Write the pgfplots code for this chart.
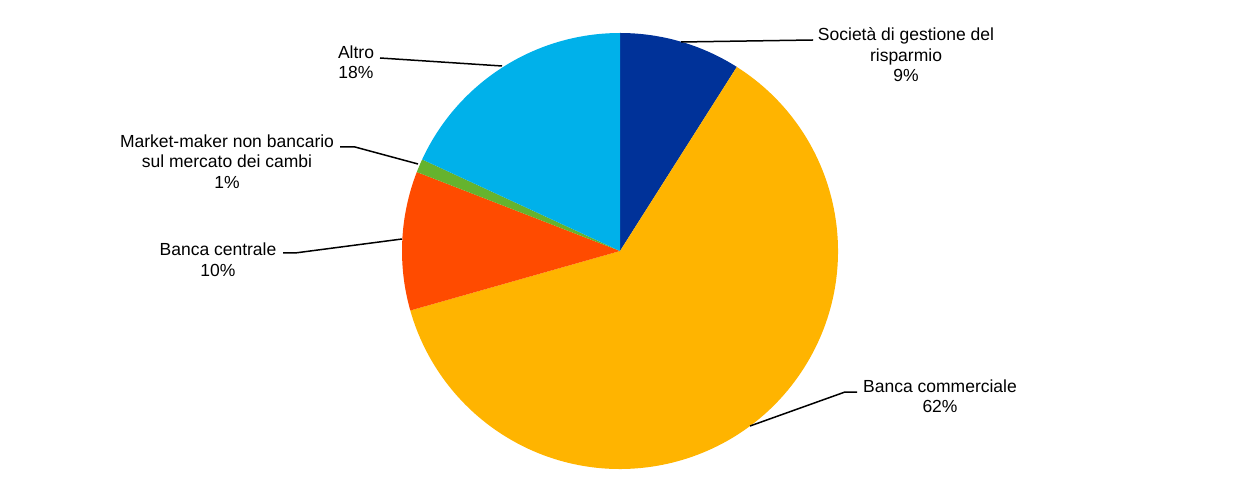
\documentclass[border=0pt]{standalone}
\usepackage{pgfplots}
\pgfplotsset{compat=1.18}
\usepackage{pgfplotstable}
\usepackage{fontspec}
\setmainfont{Liberation Sans}
\definecolor{cblue}{HTML}{003299}
\definecolor{corange}{HTML}{FFB400}
\definecolor{cred}{HTML}{FF4B00}
\definecolor{cgreen}{HTML}{65B32E}
\definecolor{ccyan}{HTML}{00B1EA}
\pgfplotstableread{
label value color
Societa 9.0 cblue
Commerciale 61.6 corange
Centrale 10.3 cred
Market 1.0 cgreen
Altro 18.1 ccyan
}\piedata
\begin{document}
\begin{tikzpicture}
\begin{axis}[x=0.5pt,y=0.5pt,xmin=0,xmax=1240,ymin=0,ymax=503,
  hide axis,clip=false,scale only axis]
\pgfplotsextra{
  \path (axis cs:0,0) (axis cs:1240,503);
  \gdef\cum{0}
  \foreach \i in {0,...,4}{
    \pgfplotstablegetelem{\i}{value}\of\piedata \let\v\pgfplotsretval
    \pgfplotstablegetelem{\i}{color}\of\piedata \let\c\pgfplotsretval
    \pgfmathsetmacro\a{90-3.6*\cum}
    \pgfmathsetmacro\b{90-3.6*(\cum+\v)}
    \fill[color=\c] (axis cs:620,252) -- ++(\a:109pt) arc[start angle=\a, end angle=\b, radius=109pt] -- cycle;
    \pgfmathsetmacro\n{\cum+\v}\xdef\cum{\n}
  }
  \begingroup
  \fontsize{8.75}{10.25}\selectfont
  \draw[line width=0.75pt] (axis cs:681,461) -- (axis cs:813,463);
  \node[align=center,inner sep=0pt] at (axis cs:906,448) {Società di gestione del\\risparmio\\9\%};
  \draw[line width=0.75pt] (axis cs:380,445) -- (axis cs:502,437);
  \node[align=center,inner sep=0pt] at (axis cs:356,440.5) {Altro\\18\%};
  \draw[line width=0.75pt] (axis cs:340,356) -- (axis cs:355,356) -- (axis cs:418,339);
  \node[align=center,inner sep=0pt] at (axis cs:227,341.5) {Market-maker non bancario\\sul mercato dei cambi\\1\%};
  \draw[line width=0.75pt] (axis cs:283,250) -- (axis cs:295,250) -- (axis cs:402,264);
  \node[align=center,inner sep=0pt] at (axis cs:218,243.5) {Banca centrale\\10\%};
  \draw[line width=0.75pt] (axis cs:750,77) -- (axis cs:845,111) -- (axis cs:857,111);
  \node[align=center,inner sep=0pt] at (axis cs:940,107) {Banca commerciale\\62\%};
  \endgroup
}
\end{axis}
\end{tikzpicture}
\end{document}
